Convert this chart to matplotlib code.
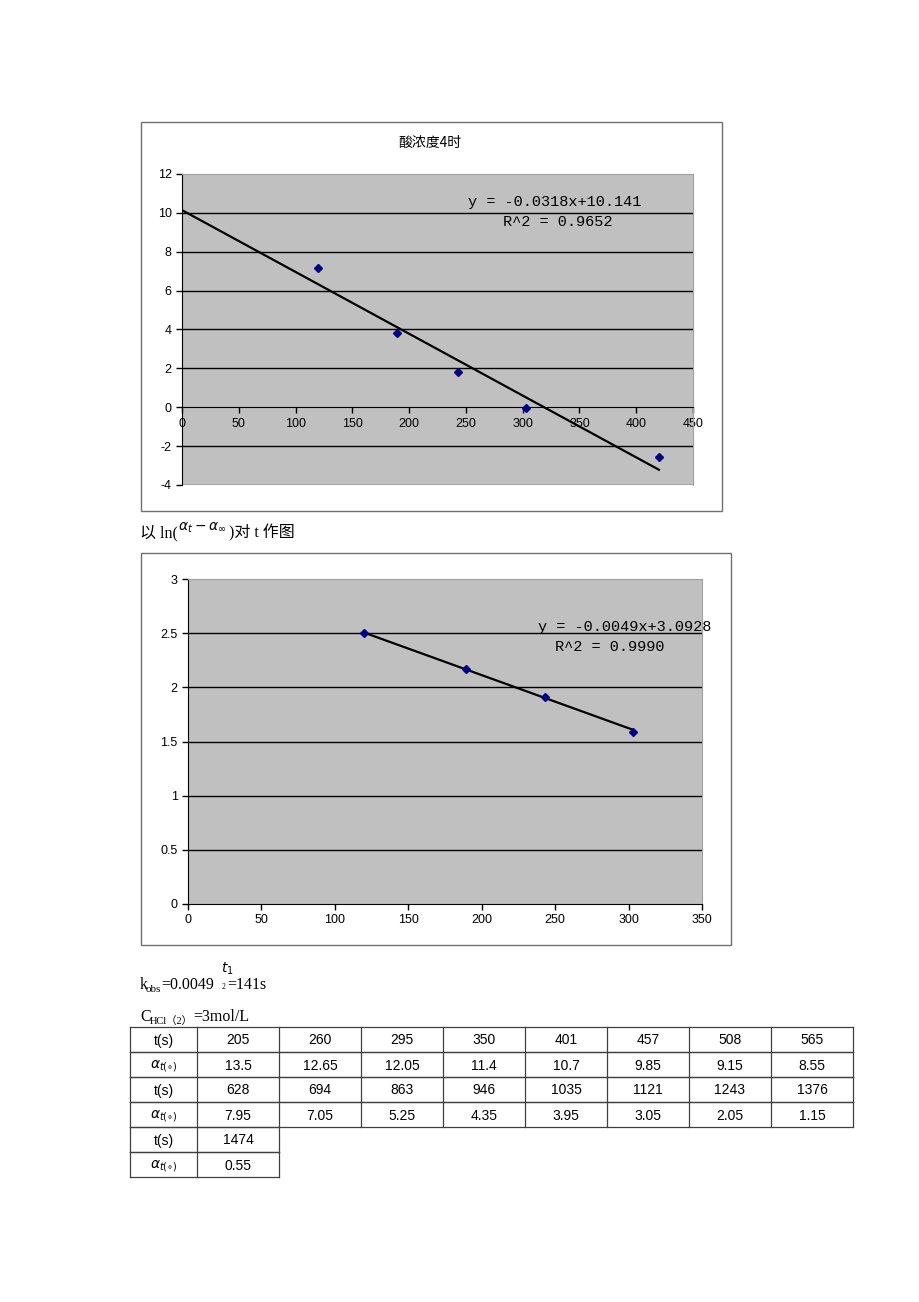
import matplotlib
matplotlib.use('Agg')
import matplotlib.pyplot as plt
import numpy as np
from matplotlib.patches import Rectangle
from matplotlib.ticker import FuncFormatter

plt.rcParams['font.family'] = ['Liberation Sans', 'Noto Sans CJK SC']

# chart 1 data (酸浓度4时)
t1 = [120, 189, 243, 303, 420]
y1 = [7.15, 3.82, 1.81, -0.05, -2.57]
slope1, icpt1 = -0.0318, 10.141
eq1 = ['y = -0.0318x+10.141', 'R^2 = 0.9652']

# chart 2 data: ln(alpha_t - alpha_inf) vs t
t2 = [120, 189, 243, 303]
y2 = [2.50, 2.17, 1.91, 1.59]
slope2, icpt2 = -0.0049, 3.0928
eq2 = ['y = -0.0049x+3.0928', 'R^2 = 0.9990']

# table, C_HCl(2) = 3 mol/L
t_rows = [[205, 260, 295, 350, 401, 457, 508, 565],
          [628, 694, 863, 946, 1035, 1121, 1243, 1376],
          [1474]]
a_rows = [['13.5', '12.65', '12.05', '11.4', '10.7', '9.85', '9.15', '8.55'],
          ['7.95', '7.05', '5.25', '4.35', '3.95', '3.05', '2.05', '1.15'],
          ['0.55']]

W, H = 920, 1302
fig = plt.figure(figsize=(W / 100, H / 100), dpi=100)
fig.patch.set_facecolor('white')

# page layer in pixel coordinates
bg = fig.add_axes([0, 0, 1, 1])
bg.set_xlim(0, W)
bg.set_ylim(H, 0)
bg.axis('off')


def px_axes(x0, y0, x1, y1):
    return fig.add_axes([x0 / W, 1 - y1 / H, (x1 - x0) / W, (y1 - y0) / H])


def gfmt(v, pos):
    return '%g' % v


def style_chart(ax, xmax, ymin, ymax, ystep):
    ax.set_facecolor('#C0C0C0')
    ax.set_xlim(0, xmax)
    ax.set_ylim(ymin, ymax)
    ax.set_xticks(np.arange(0, xmax + 1, 50))
    ax.set_yticks(np.arange(ymin, ymax + ystep / 2, ystep))
    for g in np.arange(ymin + ystep, ymax, ystep):
        if g != 0:
            ax.axhline(g, color='black', lw=1, zorder=1)
    ax.spines['bottom'].set_position(('data', 0))
    ax.spines['bottom'].set_color('black')
    ax.spines['left'].set_color('black')
    for s in ['top', 'right']:
        ax.spines[s].set_color('#A0A0A0')
        ax.spines[s].set_linewidth(0.8)
    if ymin < 0:
        ax.axhline(ymin, color='#A0A0A0', lw=1.2)
    ax.tick_params(direction='out', length=4, width=1, labelsize=9,
                   colors='black')
    ax.yaxis.set_major_formatter(FuncFormatter(gfmt))
    ax.xaxis.set_major_formatter(FuncFormatter(gfmt))


# ---- chart 1 ----
bg.add_patch(Rectangle((141, 122), 581, 389, fill=False, ec='#707070', lw=1))
bg.text(430, 143, '酸浓度4时', ha='center', va='center', fontsize=10,
        family=['Noto Sans CJK SC'])
ax1 = px_axes(182, 174, 693, 485)
style_chart(ax1, 450, -4, 12, 2)
xl = np.array([0, max(t1)])
ax1.plot(xl, slope1 * xl + icpt1, color='black', lw=1.6, zorder=3)
ax1.plot(t1, y1, 'D', color='#000080', ms=4.5, zorder=4)
ax1.text(0.73, 0.91, eq1[0], transform=ax1.transAxes, ha='center', va='center',
         fontsize=11, family=['Liberation Mono'])
ax1.text(0.735, 0.846, eq1[1], transform=ax1.transAxes, ha='center', va='center',
         fontsize=11, family=['Liberation Mono'])

# ---- caption ----
serif = ['Liberation Serif', 'Noto Sans CJK SC']
bg.text(140, 533, '以 ln(', ha='left', va='center', fontsize=11.5, family=serif)
bg.text(178, 528, r'$\alpha_t - \alpha_\infty$', ha='left', va='center',
        fontsize=10)
bg.text(229, 533, ')对 t 作图', ha='left', va='center', fontsize=11.5,
        family=serif)

# ---- chart 2 ----
bg.add_patch(Rectangle((141, 553), 590, 392, fill=False, ec='#707070', lw=1))
ax2 = px_axes(188, 579, 702, 904)
style_chart(ax2, 350, 0, 3, 0.5)
xl = np.array([min(t2), max(t2)])
ax2.plot(xl, slope2 * xl + icpt2, color='black', lw=1.6, zorder=3)
ax2.plot(t2, y2, 'D', color='#000080', ms=4.5, zorder=4)
ax2.text(0.85, 0.852, eq2[0], transform=ax2.transAxes, ha='center', va='center',
         fontsize=11, family=['Liberation Mono'], clip_on=False)
ax2.text(0.82, 0.79, eq2[1], transform=ax2.transAxes, ha='center', va='center',
         fontsize=11, family=['Liberation Mono'])

# ---- k_obs and half-life ----
bg.text(140, 985, 'k', ha='left', va='center', fontsize=11.5, family=serif)
bg.text(146, 990, 'obs', ha='left', va='center', fontsize=8, family=serif)
bg.text(161, 985, '=0.0049', ha='left', va='center', fontsize=11.5, family=serif)
bg.text(221, 969, r'$t_1$', ha='left', va='center', fontsize=10)
bg.text(222, 987, '2', ha='left', va='center', fontsize=5.5, family=serif)
bg.text(227, 985, '=141s', ha='left', va='center', fontsize=11.5, family=serif)

bg.text(140, 1017, 'C', ha='left', va='center', fontsize=11.5, family=serif)
bg.text(150, 1021, 'HCl（2）', ha='left', va='center', fontsize=7.5, family=serif)
bg.text(193, 1017, '=3mol/L', ha='left', va='center', fontsize=11.5, family=serif)

# ---- table ----
x_edges = [130, 197, 279, 361, 443, 525, 607, 689, 771, 853]
row_h = 25
top = 1027
lc = '#404040'
for i, (tr, ar) in enumerate(zip(t_rows, a_rows)):
    for j, (lab, vals) in enumerate([('t(s)', tr), (r'$\alpha_{t(\circ)}$', ar)]):
        y0 = top + (2 * i + j) * row_h
        ncol = len(vals)
        xr = x_edges[ncol + 1]
        bg.plot([130, xr], [y0, y0], color=lc, lw=0.9)
        bg.plot([130, xr], [y0 + row_h, y0 + row_h], color=lc, lw=0.9)
        for k in range(ncol + 2):
            bg.plot([x_edges[k], x_edges[k]], [y0, y0 + row_h], color=lc, lw=0.9)
        bg.text((x_edges[0] + x_edges[1]) / 2, y0 + row_h / 2 + 1, lab,
                ha='center', va='center', fontsize=10)
        for k, v in enumerate(vals):
            bg.text((x_edges[k + 1] + x_edges[k + 2]) / 2, y0 + row_h / 2 + 1,
                    str(v), ha='center', va='center', fontsize=10)

fig.savefig('out.png', dpi=100, facecolor='white')
